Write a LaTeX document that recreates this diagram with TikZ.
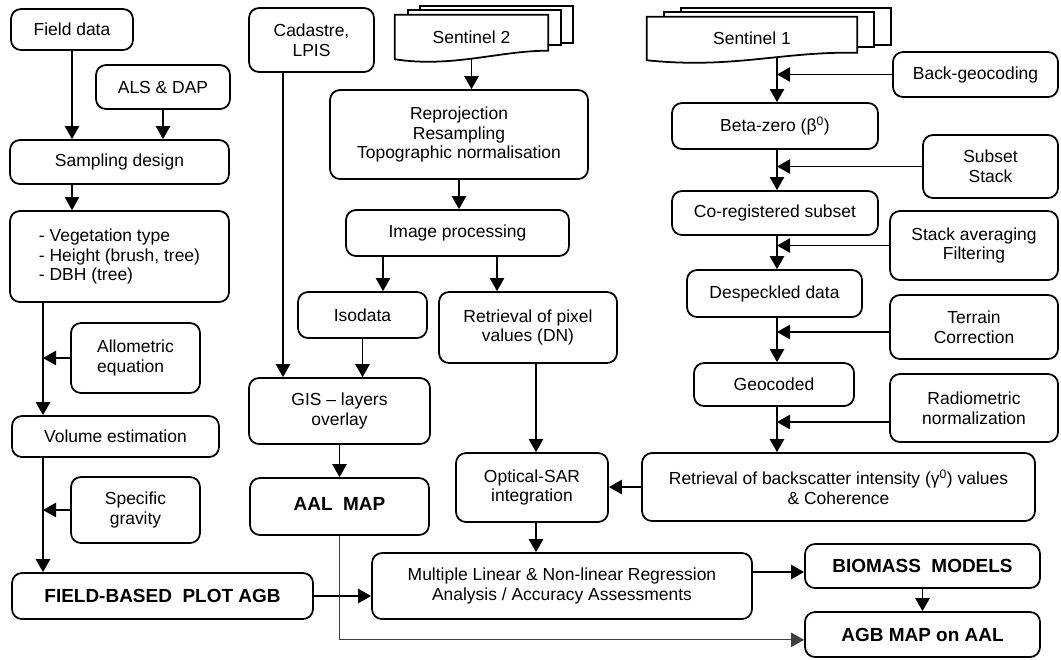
\documentclass[tikz,border=0pt]{standalone}
\usepackage{fontspec}
\setmainfont{Liberation Sans}
\usepackage{tikz}
\usetikzlibrary{arrows.meta,calc,backgrounds}
\newcommand{\regfont}{\fontsize{14.9}{17}\selectfont}
\newcommand{\bigfont}{\fontsize{16.2}{19}\selectfont\bfseries}

\begin{document}
\begin{tikzpicture}[x=0.3mm,y=-0.3mm,>={Triangle[width=4.3mm,length=3.9mm]},
  box/.style={draw,rounded corners=3mm,line width=1.5pt,align=center,inner sep=1pt,font=\regfont},
  bbox/.style={box,font=\bigfont},
  doc/.style={inner sep=1pt,font=\regfont},
  docline/.style={draw,fill=white,line width=1.5pt},
  flow/.style={->,line width=1.3pt},
  thinflow/.style={->,line width=0.9pt,black!75}]
\useasboundingbox (0,0) rectangle (1061,659);
% field branch
\node[box,minimum width=36.6mm,minimum height=12.3mm] (fd) at (72,29.5) {Field data};
\node[box,minimum width=40.2mm,minimum height=13.2mm] (als) at (163,87) {ALS \& DAP};
\node[box,minimum width=65.7mm,minimum height=13.2mm] (sd) at (119.5,162) {Sampling design};
\node[box,minimum width=65.7mm,minimum height=27.3mm,align=left] (veg) at (119.5,256.5) {- Vegetation type\\- Height (brush, tree)\\- DBH (tree)};
\node[box,minimum width=38.7mm,minimum height=21mm,align=left] (allo) at (135.5,358) {Allometric\\equation};
\node[box,minimum width=62.1mm,minimum height=12.3mm] (vol) at (115.5,436.5) {Volume estimation};
\node[box,minimum width=38.7mm,minimum height=19.8mm] (sg) at (135.5,510) {Specific\\gravity};
\node[bbox,minimum width=90.3mm,minimum height=13.8mm] (fagb) at (162.5,596) {FIELD-BASED~ PLOT AGB};
% optical branch
\node[box,minimum width=37.5mm,minimum height=19.2mm] (cad) at (311.5,40) {Cadastre,\\LPIS};
\node[doc,minimum width=45.9mm,minimum height=13.2mm] (s2) at (471.5,37) {Sentinel 2};
\node[box,minimum width=77.4mm,minimum height=26.7mm] (rep) at (459,134.5) {Reprojection\\Resampling\\Topographic normalisation};
\node[box,minimum width=66.9mm,minimum height=13.8mm] (imp) at (457.5,233) {Image processing};
\node[box,minimum width=38.7mm,minimum height=13.8mm] (iso) at (362.5,315) {Isodata};
\node[box,minimum width=53.4mm,minimum height=21.3mm] (rpx) at (528,327.5) {Retrieval of pixel\\values (DN)};
\node[box,minimum width=54.3mm,minimum height=19.8mm] (gis) at (339.5,411) {GIS – layers\\overlay};
\node[bbox,minimum width=53.7mm,minimum height=17.1mm,text depth=1.6mm] (aal) at (339.5,506.5) {AAL~ MAP};
\node[box,minimum width=45.6mm,minimum height=20.7mm] (osar) at (532,487.5) {Optical-SAR\\integration};
\node[box,minimum width=114mm,minimum height=19.8mm] (reg) at (562,586) {Multiple Linear \& Non-linear Regression\\Analysis / Accuracy Assessments};
\node[bbox,minimum width=70.5mm,minimum height=13.2mm] (bio) at (922.5,566) {BIOMASS~ MODELS};
\node[bbox,minimum width=70.5mm,minimum height=13.5mm] (agbm) at (922.5,634.5) {AGB MAP on AAL};
% SAR branch
\node[doc,minimum width=63mm,minimum height=12.9mm] (s1) at (752,38.5) {Sentinel 1};
\node[box,minimum width=49.5mm,minimum height=13.5mm] (bgc) at (975.5,74.5) {Back-geocoding};
\node[box,minimum width=61.8mm,minimum height=13.8mm] (beta) at (775,126) {Beta-zero (β\textsuperscript{0})};
\node[box,minimum width=40.5mm,minimum height=18.9mm] (sub) at (990.5,166.5) {Subset\\Stack};
\node[box,minimum width=61.8mm,minimum height=13.2mm] (coreg) at (775,213) {Co-registered subset};
\node[box,minimum width=50.4mm,minimum height=20.7mm] (stk) at (974,245.5) {Stack averaging\\Filtering};
\node[box,minimum width=52.5mm,minimum height=14.1mm] (desp) at (774.5,293.5) {Despeckled data};
\node[box,minimum width=50.4mm,minimum height=19.2mm] (ter) at (974,327) {Terrain\\Correction};
\node[box,minimum width=48mm,minimum height=12.9mm] (geo) at (774,384.5) {Geocoded};
\node[box,minimum width=50.4mm,minimum height=20.4mm] (rad) at (974,408) {Radiometric\\normalization};
\node[box,minimum width=117.9mm,minimum height=20.4mm] (bsc) at (838.5,487) {Retrieval of backscatter intensity (γ\textsuperscript{0}) values\\\& Coherence};
% trunk lines
\coordinate (trunk) at (43,0);
\coordinate (cadx) at (283,0);
\coordinate (isox) at (383,0);
\coordinate (rpxx) at (497,0);
\coordinate (optx) at (536,0);
\coordinate (sarx) at (777,0);
\draw[flow] (fd) -- (fd |- sd.north);
\draw[flow] (als) -- (als |- sd.north);
\draw[flow] (fd |- sd.south) -- (fd |- veg.north);
\draw[flow] (trunk |- veg.south) -- (trunk |- vol.north);
\draw[flow] (trunk |- vol.south) -- (trunk |- fagb.north);
\foreach \n in {allo,sg} \draw[flow] (\n) -- (\n -| trunk);
\draw[flow] (cadx |- cad.south) -- (cadx |- gis.north);
\draw[flow] (rep) -- (rep |- imp.north);
\draw[flow] (isox |- imp.south) -- (isox |- iso.north);
\draw[flow] (rpxx |- imp.south) -- (rpxx |- rpx.north);
\draw[flow] (iso) -- (iso |- gis.north);
\draw[flow] (gis) -- (aal);
\draw[flow] (optx |- rpx.south) -- (optx |- osar.north);
\draw[flow] (optx |- osar.south) -- (optx |- reg.north);
\draw[flow] (bsc) -- (bsc -| osar.east);
\draw[flow] (fagb) -- (fagb -| reg.west);
\draw[flow] ([yshift=-1.8mm]reg.east |- bio) -- ([yshift=-1.8mm]bio.west);
\draw[flow] (bio) -- (agbm);
\draw[thinflow] (aal) -- ([yshift=-1.6mm]aal |- agbm) -- ([yshift=-1.6mm]agbm.west);
\foreach \a/\b in {beta/coreg,coreg/desp,desp/geo,geo/bsc} \draw[flow] (sarx |- \a.south) -- (sarx |- \b.north);
\foreach \n in {bgc,sub,stk} \draw[flow] (\n) -- (\n -| sarx);
\draw[flow] ([yshift=-1.5mm]ter.west) -- ([yshift=-1.5mm]ter.west -| sarx);
\draw[flow] ([yshift=-4.2mm]rad.west) -- ([yshift=-4.2mm]rad.west -| sarx);
% document stacks
\begin{scope}[on background layer]
\draw[flow] (s2) -- (s2 |- rep.north);
\draw[flow] (sarx |- s1) -- (sarx |- beta.north);
\foreach \d/\a/\b in {s2/13/25,s1/17/34} {
  \draw[docline] ($(\d.north west)+(\b,-9)$) rectangle ($(\d.north east)+(\b,28)$);
  \draw[docline] ($(\d.north west)+(\a,-5)$) rectangle ($(\d.north east)+(\a,30)$);
  \draw[docline] (\d.north west) -- (\d.north east) -- ($(\d.north east)+(0,36)$) .. controls ($(\d.south)+(30,-9)$) and ($(\d.south)+(-20,9)$) .. (\d.south west) -- cycle;
}
\end{scope}
\end{tikzpicture}
\end{document}
